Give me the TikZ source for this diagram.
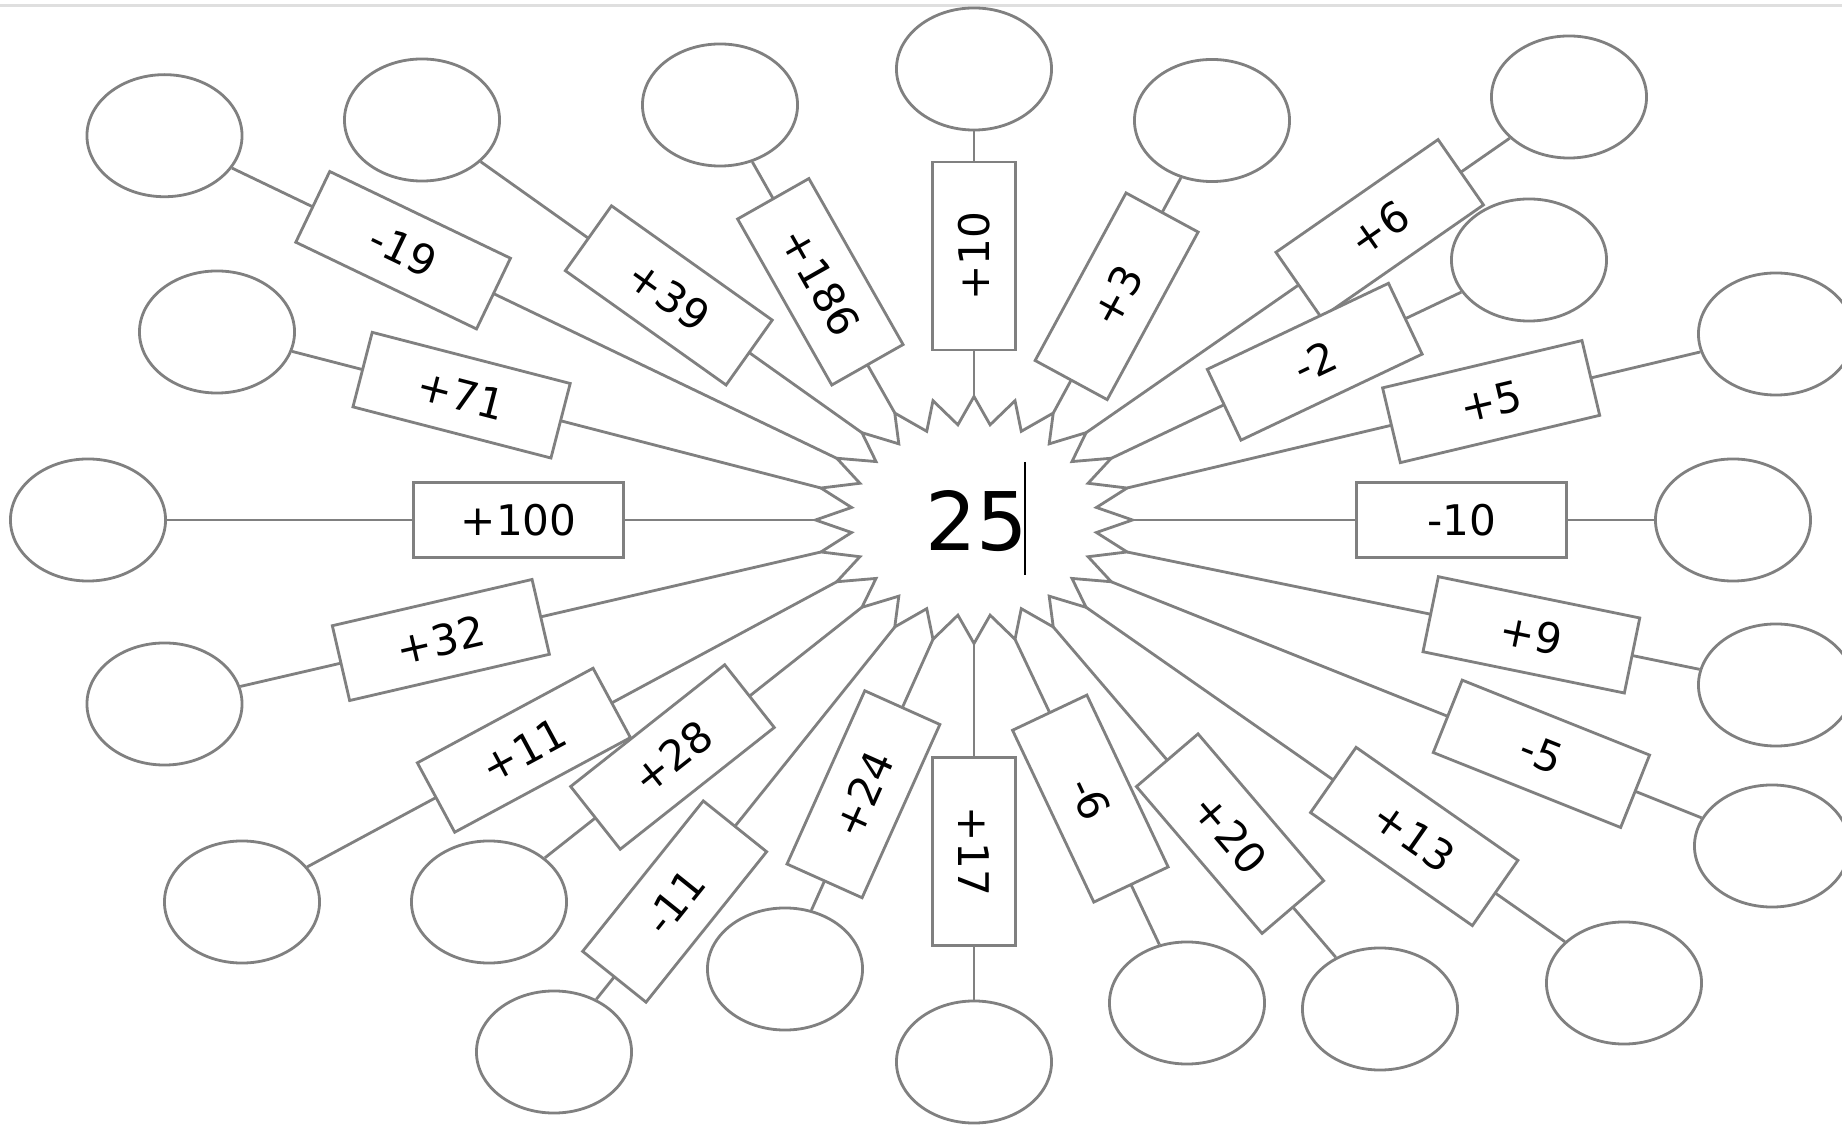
\documentclass[tikz,border=0pt]{standalone}
\usepackage{fontspec}
\setmainfont{DejaVu Sans}
\usetikzlibrary{shapes.geometric}
\definecolor{spokegray}{RGB}{128,128,128}
\tikzset{
  spoke/.style={draw=spokegray, line width=0.8pt},
  oval/.style={ellipse, draw=spokegray, line width=0.8pt, fill=white, minimum width=1.55cm, minimum height=1.22cm, inner sep=0pt},
  numbox/.style={rectangle, draw=spokegray, line width=0.8pt, fill=white, inner sep=0pt, font=\fontsize{12}{14}\selectfont},
}

\begin{document}
\begin{tikzpicture}[x=0.01cm, y=-0.01cm]
    \useasboundingbox (0,0) rectangle (1842,1125);
    % Window edge
    \draw[gray!25, line width=0.9pt] (0,5.5) -- (1842,5.5);

    % Star with the start number
    \draw[spoke, fill=white] plot[samples at={0,1,...,47}] ({974+(141+17.5*cos(\x*180))*cos(\x*7.5)}, {520-(109.75+13.75*cos(\x*180))*sin(\x*7.5)}) -- cycle;
    \node[font=\fontsize{23}{26}\selectfont] (start) at (977,521) {25};
    \draw[line width=0.5pt] (1025,462) -- (1025,575);

    % Spokes: tip angle / answer oval / box position / step
    \foreach \a/\ex/\ey/\p/\lbl [count=\i] in {
        150/164.5/135.7/0.645/-19, 135/422/120/0.439/+39, 120/720/105/0.426/+186,
        90/974/69/0.429/+10, 60/1212/120.5/0.399/+3, 45/1569/97/0.608/+6,
        30/1529/260/0.487/-2, 15/1776/334/0.561/+5, 0/1733/520/0.548/-10,
        -15/1776/685/0.623/+9, -30/1772/846/0.651/-5, -45/1624/983/0.610/+13,
        -60/1380/1009/0.541/+20, -75/1187/1003/0.438/-6, -90/974/1062/0.497/+17,
        -105/785/969/0.470/+24, -120/554/1052/0.646/-11, -135/489/902/0.508/+28,
        -150/242/902/0.526/+11, -165/164.5/704/0.579/+32, 180/88/520/0.408/+100,
        165/217/332/0.595/+71} {
        \pgfmathsetmacro\tx{round(10*(974+158.5*cos(\a)))/10}
        \pgfmathsetmacro\ty{round(10*(520-123.5*sin(\a)))/10}
        \pgfmathsetmacro\sn{abs(sin(atan2(\ey-\ty,\ex-\tx)))}
        \coordinate (t\i) at (\tx,\ty);
        \node[oval] (e\i) at (\ex,\ey) {};
        \draw[spoke] (t\i) -- (e\i);
        \path (t\i) -- (e\i.center) node[numbox, sloped, pos=\p, minimum width={(210-22*\sn)*0.01cm}, minimum height={(75+8*\sn)*0.01cm}] (b\i) {\lbl};
    }
\end{tikzpicture}
\end{document}
